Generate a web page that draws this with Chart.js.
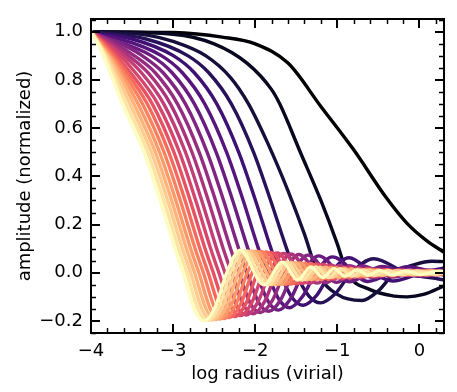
<!DOCTYPE html>
<html><head><meta charset="utf-8">
<script src="https://cdn.jsdelivr.net/npm/chart.js@4/dist/chart.umd.min.js"></script>
<style>html,body{margin:0;padding:0;background:#fff;}canvas{display:block;}</style>
</head><body>
<canvas id="c" width="457" height="392"></canvas>
<script>
// ---------- tick labels ----------
const xTickValues = [-4, -3, -2, -1, 0];
const yTickValues = [-0.2, 0, 0.2, 0.4, 0.6, 0.8, 1.0];

// ---------- series colours (magma, dark -> light) ----------
const colors = ['#000004','#080720','#160f3b','#27125a','#3f1073','#56147d','#6a1c81','#802582','#942c80','#ab337c',
                '#c23c75','#d6456c','#e75263','#f4695c','#fa815f','#fd9a6a','#feb37b','#fecc8f','#fde4a6','#fcfdbf'];

// ---------- curve values (log radius, amplitude) ----------
const n00x = [-4,-3,-2.4,-2.0,-1.6,-1.2,-0.8,-0.4,-0.15,0.1,0.3];
const n00y = [1,0.997,0.978,0.95,0.87,0.69,0.51,0.31,0.205,0.13,0.085];
const n01x = [-4,-3,-2.5,-2.1,-1.8,-1.7,-1.45,-1.2,-1.0,-0.88,-0.6,-0.3,-0.15,0.05,0.3];
const n01y = [1,0.99,0.95,0.87,0.76,0.7,0.5,0.3,0.12,0,-0.07,-0.097,-0.1,-0.09,-0.055];
const n02x = [-4,-3.3,-3,-2.6,-2.3,-2.08,-1.85,-1.6,-1.4,-1.24,-1.0,-0.7,-0.5,-0.3,-0.05,0.15,0.3];
const n02y = [1,0.985,0.96,0.9,0.81,0.7,0.54,0.34,0.16,0,-0.09,-0.115,-0.075,0,0.035,0.048,0.046];
const n03x = [-4,-3.33,-2.817,-2.565,-2.289,-2.019,-1.812,-1.617,-1.506,-1.345,-1.204,-1.028,-0.829,-0.556,-0.164,0.3];
const n03y = [1,0.97,0.9,0.83,0.7,0.5,0.3,0.1,0,-0.097,-0.125,-0.088,0,0.058,0,-0.03];
const n04x = [-4,-3.5,-2.993,-2.741,-2.466,-2.2,-1.996,-1.807,-1.7,-1.547,-1.415,-1.254,-1.08,-0.855,-0.575,-0.324,0.03,0.3];
const n04y = [0.995,0.97,0.9,0.83,0.7,0.5,0.3,0.1,0,-0.105,-0.135,-0.095,0,0.062,0,-0.034,0,0.02];
const n05x = [-4,-3.65,-3.138,-2.887,-2.613,-2.348,-2.146,-1.96,-1.855,-1.706,-1.58,-1.426,-1.263,-1.059,-0.628,-0.147,0.193,0.3];
const n05y = [0.99,0.97,0.9,0.83,0.7,0.5,0.3,0.1,0,-0.113,-0.145,-0.1,0,0.066,-0.036,0.025,0,-0.01];
const n06x = [-4,-3.774,-3.263,-3.012,-2.739,-2.475,-2.274,-2.089,-1.986,-1.84,-1.717,-1.569,-1.414,-1.225,-0.849,-0.459,-0.006,0.3];
const n06y = [0.99,0.97,0.9,0.83,0.7,0.5,0.3,0.1,0,-0.12,-0.155,-0.108,0,0.07,-0.038,0.026,-0.015,0];
const n07x = [-4,-3.7,-3.373,-3.121,-2.848,-2.585,-2.385,-2.201,-2.099,-1.955,-1.834,-1.689,-1.539,-1.358,-1.008,-0.694,-0.324,0.108,0.3];
const n07y = [0.995,0.96,0.9,0.83,0.7,0.5,0.3,0.1,0,-0.125,-0.16,-0.112,0,0.073,-0.04,0.028,-0.018,0.012,0.005];
const n08x = [-4,-3.75,-3.47,-3.218,-2.945,-2.682,-2.483,-2.3,-2.199,-2.056,-1.936,-1.792,-1.645,-1.469,-1.135,-0.846,-0.571,-0.209,0.223,0.3];
const n08y = [1,0.96,0.9,0.83,0.7,0.5,0.3,0.1,0,-0.129,-0.165,-0.116,0,0.076,-0.041,0.029,-0.02,0.013,-0.008,-0.004];
const n09x = [-4,-3.8,-3.556,-3.306,-3.032,-2.77,-2.571,-2.389,-2.288,-2.145,-2.026,-1.884,-1.74,-1.567,-1.243,-0.97,-0.719,-0.471,-0.107,0.3];
const n09y = [1,0.962,0.904,0.83,0.7,0.5,0.3,0.1,0,-0.133,-0.17,-0.119,0,0.078,-0.043,0.03,-0.021,0.015,-0.01,0.007];
const n10x = [-4,-3.635,-3.385,-3.112,-2.849,-2.651,-2.469,-2.368,-2.226,-2.108,-1.967,-1.824,-1.654,-1.338,-1.077,-0.844,-0.621,-0.326,-0.019,0.3];
const n10y = [1,0.912,0.83,0.7,0.5,0.3,0.1,0,-0.137,-0.175,-0.122,0,0.08,-0.044,0.032,-0.024,0.018,-0.014,0.011,-0.005];
const n11x = [-4,-3.708,-3.458,-3.185,-2.922,-2.724,-2.542,-2.442,-2.3,-2.182,-2.043,-1.901,-1.733,-1.423,-1.171,-0.95,-0.745,-0.542,-0.24,0.065,0.3];
const n11y = [1,0.922,0.83,0.7,0.5,0.3,0.1,0,-0.139,-0.178,-0.125,0,0.082,-0.045,0.035,-0.025,0.019,-0.015,0.012,-0.01,0];
const n12x = [-4,-3.775,-3.525,-3.252,-2.99,-2.792,-2.61,-2.51,-2.369,-2.251,-2.112,-1.971,-1.804,-1.499,-1.254,-1.042,-0.849,-0.663,-0.404,-0.162,0.132,0.3];
const n12y = [1,0.932,0.833,0.7,0.5,0.3,0.1,0,-0.142,-0.182,-0.127,0,0.084,-0.046,0.037,-0.026,0.02,-0.016,0.013,-0.011,0.009,0];
const n13x = [-4,-3.837,-3.587,-3.314,-3.052,-2.854,-2.673,-2.573,-2.432,-2.315,-2.176,-2.036,-1.87,-1.566,-1.324,-1.114,-0.92,-0.73,-0.538,-0.329,-0.093,0.202,0.3];
const n13y = [1,0.946,0.842,0.7,0.5,0.3,0.1,0,-0.145,-0.186,-0.13,0,0.086,-0.047,0.039,-0.027,0.021,-0.017,0.014,-0.012,0.01,-0.008,-0.004];
const n14x = [-4,-3.895,-3.645,-3.372,-3.11,-2.912,-2.731,-2.631,-2.491,-2.374,-2.236,-2.096,-1.931,-1.632,-1.395,-1.194,-1.015,-0.848,-0.647,-0.461,-0.261,-0.027,0.259,0.3];
const n14y = [1,0.961,0.852,0.7,0.5,0.3,0.1,0,-0.148,-0.19,-0.133,0,0.088,-0.048,0.04,-0.028,0.022,-0.018,0.015,-0.012,0.01,-0.009,0.008,0.006];
const n15x = [-4,-3.85,-3.699,-3.426,-3.165,-2.967,-2.786,-2.686,-2.546,-2.429,-2.292,-2.152,-1.988,-1.691,-1.455,-1.256,-1.077,-0.907,-0.741,-0.572,-0.394,-0.196,0.033,0.3];
const n15y = [1,0.935,0.865,0.7,0.5,0.3,0.1,0,-0.15,-0.192,-0.134,0,0.089,-0.048,0.041,-0.028,0.022,-0.018,0.015,-0.013,0.011,-0.009,0.008,-0.004];
const n16x = [-4,-3.875,-3.75,-3.477,-3.216,-3.018,-2.837,-2.738,-2.597,-2.481,-2.344,-2.204,-2.041,-1.744,-1.513,-1.318,-1.144,-0.981,-0.823,-0.665,-0.505,-0.331,-0.137,0.09,0.3];
const n16y = [1,0.94,0.88,0.7,0.5,0.3,0.1,0,-0.151,-0.194,-0.136,0,0.09,-0.049,0.042,-0.029,0.023,-0.019,0.016,-0.013,0.011,-0.01,0.009,-0.008,0];
const n17x = [-4,-3.9,-3.798,-3.525,-3.264,-3.066,-2.886,-2.786,-2.646,-2.53,-2.392,-2.254,-2.091,-1.797,-1.569,-1.378,-1.212,-1.058,-0.912,-0.769,-0.6,-0.442,-0.273,-0.083,0.14,0.3];
const n17y = [1,0.948,0.895,0.7,0.5,0.3,0.1,0,-0.153,-0.196,-0.137,0,0.091,-0.049,0.043,-0.029,0.023,-0.019,0.016,-0.014,0.012,-0.01,0.009,-0.008,0.007,-0.002];
const n18x = [-4,-3.92,-3.844,-3.571,-3.31,-3.113,-2.932,-2.832,-2.692,-2.576,-2.439,-2.301,-2.139,-1.846,-1.62,-1.428,-1.262,-1.108,-0.964,-0.822,-0.683,-0.538,-0.385,-0.22,-0.031,0.189,0.3];
const n18y = [1,0.957,0.914,0.7,0.5,0.3,0.1,0,-0.154,-0.198,-0.139,0,0.092,-0.05,0.044,-0.03,0.024,-0.02,0.017,-0.014,0.012,-0.011,0.009,-0.008,0.007,-0.006,0];
const n19x = [-4,-3.888,-3.75,-3.615,-3.354,-3.157,-2.976,-2.877,-2.737,-2.621,-2.484,-2.346,-2.184,-1.892,-1.668,-1.482,-1.322,-1.175,-1.039,-0.908,-0.757,-0.622,-0.483,-0.333,-0.17,0.014,0.236,0.3];
const n19y = [1,0.933,0.818,0.7,0.5,0.3,0.1,0,-0.156,-0.2,-0.14,0,0.094,-0.05,0.044,-0.03,0.024,-0.02,0.017,-0.014,0.012,-0.011,0.01,-0.009,0.008,-0.007,0.006,0.004];

const curveXs = [n00x,n01x,n02x,n03x,n04x,n05x,n06x,n07x,n08x,n09x,n10x,n11x,n12x,n13x,n14x,n15x,n16x,n17x,n18x,n19x];
const curveYs = [n00y,n01y,n02y,n03y,n04y,n05y,n06y,n07y,n08y,n09y,n10y,n11y,n12y,n13y,n14y,n15y,n16y,n17y,n18y,n19y];

const FONT = 'DejaVu Sans';
const datasets = curveXs.map((xs, i) => ({
  data: xs.map((x, j) => ({x: x, y: curveYs[i][j]})),
  borderColor: colors[i],
  borderWidth: 3.4,
  pointRadius: 0,
  fill: false,
  cubicInterpolationMode: 'monotone',
  order: -i
}));

const minus = v => String(v).replace('-', '\u2212');

const framePlugin = {
  id: 'frame',
  afterDraw(chart) {
    const {ctx, chartArea: a, scales: {x, y}} = chart;
    ctx.save();
    ctx.strokeStyle = '#000';
    ctx.lineCap = 'butt';
    ctx.lineWidth = 1.5;
    ctx.beginPath();
    for (let k = -20; k <= 1; k++) {
      if (k % 5 === 0) continue;
      const px = Math.round(x.getPixelForValue(k * 0.2)) + 0.5;
      ctx.moveTo(px, a.bottom); ctx.lineTo(px, a.bottom - 5);
      ctx.moveTo(px, a.top); ctx.lineTo(px, a.top + 5);
    }
    for (let k = -5; k <= 21; k++) {
      if (k % 4 === 0) continue;
      const py = Math.round(y.getPixelForValue(k * 0.05)) + 0.5;
      ctx.moveTo(a.left, py); ctx.lineTo(a.left + 5, py);
      ctx.moveTo(a.right, py); ctx.lineTo(a.right - 5, py);
    }
    ctx.stroke();
    ctx.lineWidth = 2;
    ctx.beginPath();
    xTickValues.forEach(v => {
      const px = Math.round(x.getPixelForValue(v));
      ctx.moveTo(px, a.bottom); ctx.lineTo(px, a.bottom - 9);
      ctx.moveTo(px, a.top); ctx.lineTo(px, a.top + 9);
    });
    yTickValues.forEach(v => {
      const py = Math.round(y.getPixelForValue(v));
      ctx.moveTo(a.left, py); ctx.lineTo(a.left + 9, py);
      ctx.moveTo(a.right, py); ctx.lineTo(a.right - 9, py);
    });
    ctx.stroke();
    ctx.strokeRect(a.left, a.top, a.right - a.left, a.bottom - a.top);
    ctx.restore();
  }
};

new Chart(document.getElementById('c'), {
  type: 'line',
  data: {datasets},
  options: {
    responsive: false,
    animation: false,
    devicePixelRatio: 1,
    layout: {padding: {top: 19, right: 13, left: 0, bottom: 0}},
    plugins: {legend: {display: false}, tooltip: {enabled: false}},
    scales: {
      x: {
        type: 'linear', min: -4, max: 0.3,
        afterBuildTicks: s => { s.ticks = xTickValues.map(v => ({value: v})); },
        afterFit: s => { s.height = 59; },
        grid: {display: false, drawTicks: false},
        border: {display: false},
        ticks: {color: '#000', font: {family: FONT, size: 18}, padding: 8, maxRotation: 0,
                callback: v => minus(v)},
        title: {display: true, text: 'log radius (virial)', color: '#000',
                font: {family: FONT, size: 18}, padding: {top: 0, bottom: 7}}
      },
      y: {
        type: 'linear', min: -0.25, max: 1.053,
        afterBuildTicks: s => { s.ticks = yTickValues.map(v => ({value: v})); },
        afterFit: s => { s.width = 91; },
        grid: {display: false, drawTicks: false},
        border: {display: false},
        ticks: {color: '#000', font: {family: FONT, size: 18}, padding: 8,
                callback: v => minus(v.toFixed(1))},
        title: {display: true, text: 'amplitude (normalized)', color: '#000',
                font: {family: FONT, size: 18}, padding: {top: 15, bottom: 0}}
      }
    }
  },
  plugins: [framePlugin]
});
</script>
</body></html>
